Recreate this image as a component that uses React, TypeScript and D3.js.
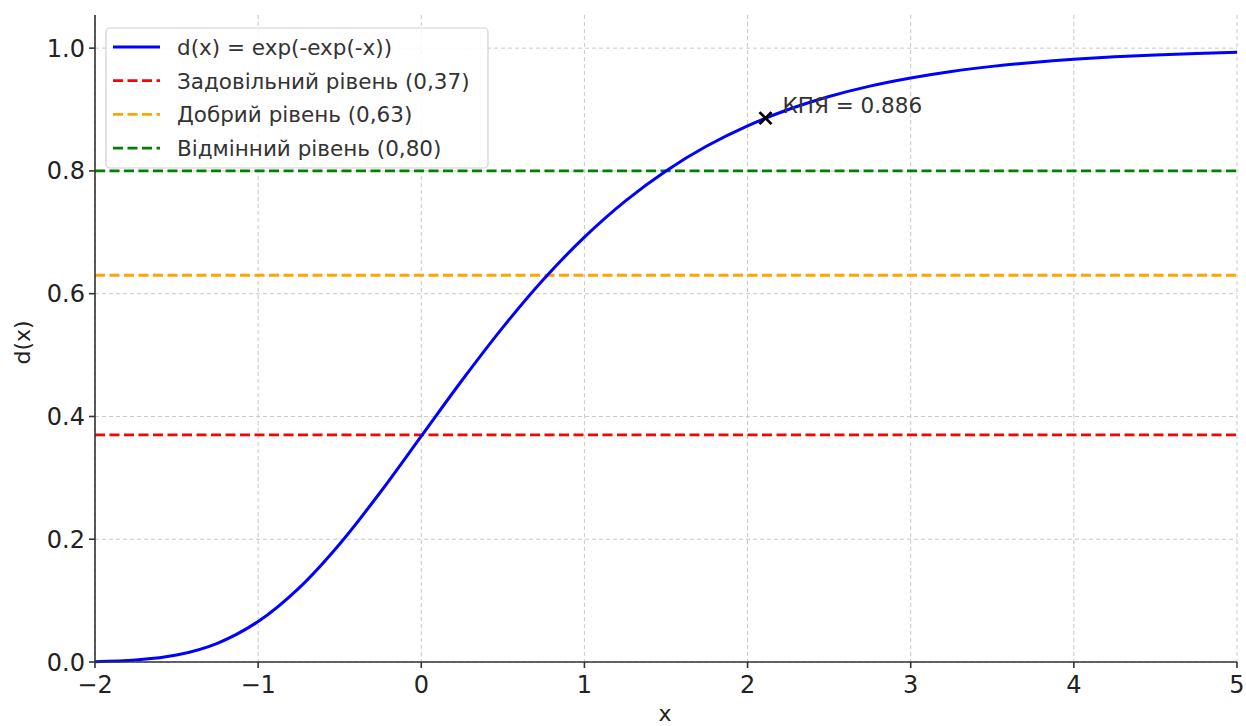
import React from "react";
import * as d3 from "d3";

const xValues = [-2, -1.75, -1.5, -1.25, -1, -0.75, -0.5, -0.25, 0, 0.25, 0.5, 0.75, 1, 1.25, 1.5, 1.75, 2, 2.25, 2.5, 2.75, 3, 3.25, 3.5, 3.75, 4, 4.25, 4.5, 4.75, 5];
const dValues = [0.0006, 0.0032, 0.0113, 0.0305, 0.066, 0.1204, 0.1923, 0.2769, 0.3679, 0.459, 0.5452, 0.6235, 0.6922, 0.7509, 0.8, 0.8405, 0.8734, 0.9, 0.9212, 0.9381, 0.9514, 0.962, 0.9703, 0.9768, 0.9819, 0.9858, 0.989, 0.9914, 0.9933];

const levels = [
  { label: "Задовільний рівень (0,37)", value: 0.37, color: "#ff0000" },
  { label: "Добрий рівень (0,63)", value: 0.63, color: "#ffa500" },
  { label: "Відмінний рівень (0,80)", value: 0.8, color: "#008000" },
];
const curveLabel = "d(x) = exp(-exp(-x))";
const kpi = { x: 2.11, y: 0.886, label: "КПЯ = 0.886" };
const xTicks = [-2, -1, 0, 1, 2, 3, 4, 5];
const yTicks = [0, 0.2, 0.4, 0.6, 0.8, 1.0];

const W = 1246, H = 726;
const left = 95, right = 1237, top = 15, bottom = 662;
const FONT = "DejaVu Sans, sans-serif";

export default function App() {
  const x = d3.scaleLinear().domain([-2, 5]).range([left, right]);
  const y = d3.scaleLinear().domain([0, 1.054]).range([bottom, top]);
  const pts = xValues.map((v, i) => [v, dValues[i]] as [number, number]);
  const line = d3.line<[number, number]>().x(d => x(d[0])).y(d => y(d[1])).curve(d3.curveCatmullRom.alpha(0.5));
  const fmt = (v: number) => (v < 0 ? "\u2212" + Math.abs(v) : String(v));
  const legendRows = [{ label: curveLabel, color: "#0000ff", dash: "" }, ...levels.map(l => ({ label: l.label, color: l.color, dash: "10,4.5" }))];
  const kx = x(kpi.x), ky = y(kpi.y);
  return (
    <svg width={W} height={H} style={{ position: "absolute", left: 0, top: 0, background: "#fff" }} fontFamily={FONT}>
      <rect x={0} y={0} width={W} height={H} fill="#fff" />
      {/* grid */}
      <g stroke="#c8c8c8" strokeWidth={1} strokeDasharray="4,3">
        {xTicks.map(t => <line key={"gx" + t} x1={x(t)} x2={x(t)} y1={top} y2={bottom} />)}
        {yTicks.map(t => <line key={"gy" + t} x1={left} x2={right} y1={y(t)} y2={y(t)} />)}
      </g>
      {/* level lines */}
      {levels.map(l => (
        <line key={l.label} x1={left} x2={right} y1={y(l.value)} y2={y(l.value)} stroke={l.color} strokeWidth={2.8} strokeDasharray="10,4.5" />
      ))}
      {/* curve */}
      <path d={line(pts) || ""} fill="none" stroke="#0000ff" strokeWidth={3} />
      {/* KPI marker */}
      <g stroke="#000" strokeWidth={2.8}>
        <line x1={kx - 6} x2={kx + 6} y1={ky - 6} y2={ky + 6} />
        <line x1={kx - 6} x2={kx + 6} y1={ky + 6} y2={ky - 6} />
      </g>
      <text x={kx + 17} y={ky - 5} fontSize={21.5} fill="#333">{kpi.label}</text>
      {/* axes */}
      <g stroke="#333" strokeWidth={1.6}>
        <line x1={left} x2={left} y1={top} y2={bottom} />
        <line x1={left} x2={right} y1={bottom} y2={bottom} />
        {xTicks.map(t => <line key={"tx" + t} x1={x(t)} x2={x(t)} y1={bottom} y2={bottom + 6} />)}
        {yTicks.map(t => <line key={"ty" + t} x1={left - 6} x2={left} y1={y(t)} y2={y(t)} />)}
      </g>
      {xTicks.map(t => (
        <text key={"lx" + t} x={x(t)} y={bottom + 31} fontSize={24} textAnchor="middle" fill="#222">{fmt(t)}</text>
      ))}
      {yTicks.map(t => (
        <text key={"ly" + t} x={left - 10} y={y(t) + 8.5} fontSize={24} textAnchor="end" fill="#222">{t.toFixed(1)}</text>
      ))}
      <text x={(left + right) / 2 - 1} y={721} fontSize={22} textAnchor="middle" fill="#222">x</text>
      <text transform={`translate(30, ${(top + bottom) / 2 + 4}) rotate(-90)`} fontSize={22} textAnchor="middle" fill="#222">d(x)</text>
      {/* legend */}
      <rect x={106} y={28} width={382} height={140} rx={4} fill="#fff" fillOpacity={0.85} stroke="#d0d0d0" strokeWidth={1.2} />
      {legendRows.map((r, i) => {
        const cy = 47 + i * 33.7;
        return (
          <g key={r.label}>
            <line x1={113} x2={160} y1={cy} y2={cy} stroke={r.color} strokeWidth={r.dash ? 2.8 : 3} strokeDasharray={r.dash || undefined} />
            <text x={177} y={cy + 8} fontSize={21.5} fill="#333">{r.label}</text>
          </g>
        );
      })}
    </svg>
  );
}
